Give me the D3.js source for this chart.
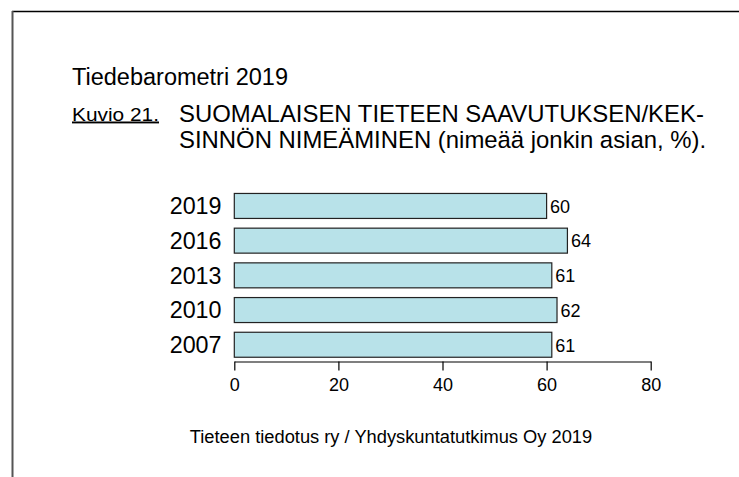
<!DOCTYPE html>
<html>
<head>
<meta charset="utf-8">
<script src="https://cdn.jsdelivr.net/npm/d3@7"></script>
<style>
	body{margin:0;background:#fff;}
	svg{display:block;font-family:"Liberation Sans",Arial,sans-serif;}
</style>
</head>
<body>
<div id="chart"></div>
<script>
//データ
let years = ["2019","2016","2013","2010","2007"];
let values = [60,64,61,62,61];
let ticks = [0,20,40,60,80];

let headTitle = "Tiedebarometri 2019";
let figLabel = "Kuvio 21.";
let titleLines = ["SUOMALAISEN TIETEEN SAAVUTUKSEN/KEK-","SINNÖN NIMEÄMINEN (nimeää jonkin asian, %)."];
let source = "Tieteen tiedotus ry / Yhdyskuntatutkimus Oy 2019";

let width = 739;
let height = 477;

let svg = d3.select("#chart").append("svg")
		.attr("width", width)
		.attr("height", height);

//枠線
svg.append("line")
	.attr("x1",12).attr("y1",11.5).attr("x2",width).attr("y2",11.5)
	.attr("stroke","#000").attr("stroke-width",1.5);
svg.append("line")
	.attr("x1",12.5).attr("y1",11).attr("x2",12.5).attr("y2",height)
	.attr("stroke","#555").attr("stroke-width",2);

//タイトル
svg.append("text")
	.attr("x",72).attr("y",85)
	.attr("font-size","23.5px")
	.text(headTitle);

svg.append("text")
	.attr("x",72).attr("y",120.5)
	.attr("font-size","19px")
	.attr("textLength",87)
	.attr("lengthAdjust","spacingAndGlyphs")
	.attr("text-decoration","underline")
	.text(figLabel);

svg.append("g")
	.selectAll("text")
	.data(titleLines)
	.enter()
	.append("text")
	.attr("x",179)
	.attr("y",function(d,i){return 121.5 + i*26.5;})
	.attr("font-size","23.9px")
	.text(function(d){return d;});

//スケール
let x = d3.scaleLinear()
	.domain([0,80])
	.range([234.3,650.7]);

let y = d3.scaleBand()
	.domain(years)
	.range([188.6,362.1])
	.paddingInner(0.28)
	.paddingOuter(0.14);

//棒
svg.append("g")
	.selectAll("rect")
	.data(values)
	.enter()
	.append("rect")
	.attr("x",x(0))
	.attr("y",function(d,i){return y(years[i]);})
	.attr("width",function(d){return x(d)-x(0);})
	.attr("height",y.bandwidth())
	.attr("fill","#b8e2e9")
	.attr("stroke","#222")
	.attr("stroke-width",1.2);

//数値ラベル
svg.append("g")
	.selectAll("text")
	.data(values)
	.enter()
	.append("text")
	.attr("x",function(d){return x(d)+3.5;})
	.attr("y",function(d,i){return y(years[i]) + y.bandwidth()/2 + 6.8;})
	.attr("font-size","18px")
	.text(function(d){return d;});

//年ラベル
svg.append("g")
	.selectAll("text")
	.data(years)
	.enter()
	.append("text")
	.attr("x",221.5)
	.attr("y",function(d){return y(d) + y.bandwidth()/2 + 8.3;})
	.attr("text-anchor","end")
	.attr("font-size","23.3px")
	.text(function(d){return d;});

//X軸
let axis = svg.append("g")
	.attr("transform","translate(0,361.5)")
	.call(d3.axisBottom(x).tickValues(ticks).tickSize(9).tickSizeOuter(0).tickPadding(8));
axis.select(".domain").attr("stroke","#000").attr("stroke-width",1.2);
axis.selectAll(".tick line").attr("stroke","#000").attr("stroke-width",1.2);
axis.selectAll(".tick text")
	.attr("font-family","Liberation Sans, Arial, sans-serif")
	.attr("font-size","18px")
	.attr("fill","#000");

//出典
svg.append("text")
	.attr("x",391).attr("y",443)
	.attr("text-anchor","middle")
	.attr("font-size","18.3px")
	.text(source);
</script>
</body>
</html>
